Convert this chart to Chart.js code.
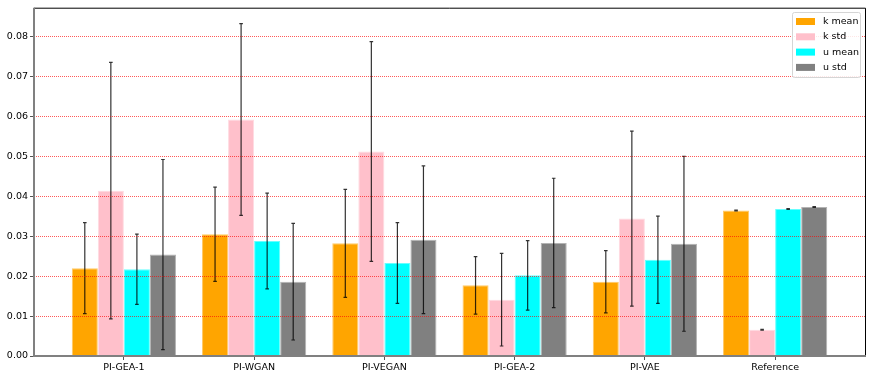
<!DOCTYPE html>
<html>
<head>
<meta charset="utf-8">
<script src="https://cdn.jsdelivr.net/npm/chart.js@4/dist/chart.umd.min.js"></script>
<style>
  html, body { margin: 0; padding: 0; background: #fff; }
  #wrap { width: 872px; height: 381px; }
</style>
</head>
<body>
<div id="wrap"><canvas id="myChart" width="872" height="381"></canvas></div>
<script>
// data
const models = ["PI-GEA-1", "PI-WGAN", "PI-VEGAN", "PI-GEA-2", "PI-VAE", "Reference"];
const seriesNames = ["k mean", "k std", "u mean", "u std"];

const kMean = [0.0220, 0.0305, 0.0282, 0.0177, 0.0186, 0.0364];
const kStd  = [0.0414, 0.0592, 0.0512, 0.0141, 0.0344, 0.0066];
const uMean = [0.0217, 0.0288, 0.0233, 0.0202, 0.0241, 0.0368];
const uStd  = [0.0254, 0.0186, 0.0291, 0.0283, 0.0281, 0.0373];

// half length of the error bars
const kMeanErr = [0.0114, 0.0118, 0.0135, 0.0072, 0.0078, 0.0001];
const kStdErr  = [0.0321, 0.0240, 0.0275, 0.0116, 0.0219, 0.0001];
const uMeanErr = [0.0088, 0.0120, 0.0101, 0.0087, 0.0109, 0.0001];
const uStdErr  = [0.0238, 0.0146, 0.0185, 0.0162, 0.0219, 0.0001];

const yTicks = [0, 0.01, 0.02, 0.03, 0.04, 0.05, 0.06, 0.07, 0.08];

const colors = ["#FFA500", "#FFC0CB", "#00FFFF", "#808080"];
const allValues = [kMean, kStd, uMean, uStd];
const allErrs = [kMeanErr, kStdErr, uMeanErr, uStdErr];

const FONT = "'DejaVu Sans', sans-serif";

function makeDataset(i) {
    return {
        label: seriesNames[i],
        data: models.map(function (m, j) { return { x: j, y: allValues[i][j] } }),
        errs: allErrs[i],
        backgroundColor: colors[i],
        borderColor: colors[i] + "99",
        borderWidth: 1,
        barPercentage: 1,
        categoryPercentage: 0.8,
    };
}

// error bars drawn from each bar element position
const errorBars = {
    id: "errorBars",
    afterDatasetsDraw(chart) {
        const ctx = chart.ctx;
        const y = chart.scales.y;
        ctx.save();
        ctx.strokeStyle = "rgba(0,0,0,0.8)";
        ctx.lineWidth = 1.2;
        chart.data.datasets.forEach(function (ds, i) {
            const meta = chart.getDatasetMeta(i);
            meta.data.forEach(function (bar, j) {
                const v = ds.data[j].y, e = ds.errs[j];
                const top = y.getPixelForValue(v + e);
                const bot = y.getPixelForValue(v - e);
                ctx.beginPath();
                ctx.moveTo(bar.x, top); ctx.lineTo(bar.x, bot);
                ctx.moveTo(bar.x - 1.8, top); ctx.lineTo(bar.x + 1.8, top);
                ctx.moveTo(bar.x - 1.8, bot); ctx.lineTo(bar.x + 1.8, bot);
                ctx.stroke();
            });
        });
        ctx.restore();
    }
};

// spines plus the legend box
const frame = {
    id: "frame",
    afterDraw(chart) {
        const ctx = chart.ctx;
        const a = chart.chartArea;
        ctx.save();
        ctx.strokeStyle = "#000";
        ctx.lineWidth = 1;
        ctx.beginPath();
        ctx.moveTo(a.left, a.top + 0.5); ctx.lineTo(a.right + 0.5, a.top + 0.5);
        ctx.lineTo(a.right + 0.5, a.bottom);
        ctx.stroke();
        ctx.strokeStyle = "#808080";
        ctx.lineWidth = 2;
        ctx.beginPath();
        ctx.moveTo(a.left, a.top);
        ctx.lineTo(a.left, a.bottom);
        ctx.lineTo(a.right + 1, a.bottom);
        ctx.stroke();

        // legend
        const bx = 792, by = 12, bw = 68, bh = 65;
        ctx.fillStyle = "rgba(255,255,255,0.85)";
        ctx.strokeStyle = "#d5d5d5";
        ctx.lineWidth = 1;
        ctx.beginPath();
        ctx.roundRect(bx + 0.5, by + 0.5, bw, bh, 2);
        ctx.fill();
        ctx.stroke();
        ctx.font = "9.5px " + FONT;
        ctx.textBaseline = "middle";
        chart.data.datasets.forEach(function (ds, i) {
            const cy = by + 9.5 + i * 15.3;
            ctx.fillStyle = ds.backgroundColor;
            ctx.fillRect(bx + 4, cy - 3.5, 19, 7);
            ctx.fillStyle = "#000";
            ctx.fillText(ds.label, bx + 31, cy);
        });
        ctx.restore();
    }
};

const config = {
    type: "bar",
    data: {
        datasets: [0, 1, 2, 3].map(makeDataset),
    },
    options: {
        responsive: false,
        animation: false,
        layout: { padding: { top: 7, right: 7, left: 0, bottom: 0 } },
        plugins: {
            legend: { display: false },
            tooltip: { enabled: false },
        },
        scales: {
            x: {
                type: "linear",
                offset: false,
                min: -0.69,
                max: 5.69,
                afterBuildTicks: function (axis) {
                    axis.ticks = models.map(function (m, i) { return { value: i } });
                },
                afterFit: function (axis) { axis.height = 25 },
                ticks: {
                    callback: function (v) { return models[v] },
                    color: "#000",
                    font: { family: FONT, size: 9.5 },
                    padding: 2,
                    maxRotation: 0,
                    autoSkip: false,
                },
                grid: {
                    drawOnChartArea: false,
                    drawTicks: true,
                    tickLength: 4,
                    tickColor: "#555",
                    offset: false,
                },
                border: { display: false },
            },
            y: {
                min: 0,
                max: 0.0872,
                afterBuildTicks: function (axis) {
                    axis.ticks = yTicks.map(function (v) { return { value: v } });
                },
                afterFit: function (axis) { axis.width = 34 },
                ticks: {
                    callback: function (v) { return v.toFixed(2) },
                    color: "#000",
                    font: { family: FONT, size: 9.5 },
                    padding: 2,
                },
                grid: {
                    z: 1,
                    color: function (c) { return c.tick && c.tick.value === 0 ? "rgba(0,0,0,0)" : "rgba(255,0,0,0.65)" },
                    lineWidth: 1,
                    tickColor: "#555",
                    tickBorderDash: [],
                    tickLength: 4,
                },
                border: { display: false, dash: [1, 1] },
            },
        },
    },
    plugins: [errorBars, frame],
};

var myChart = new Chart(document.getElementById("myChart"), config);
</script>
</body>
</html>
